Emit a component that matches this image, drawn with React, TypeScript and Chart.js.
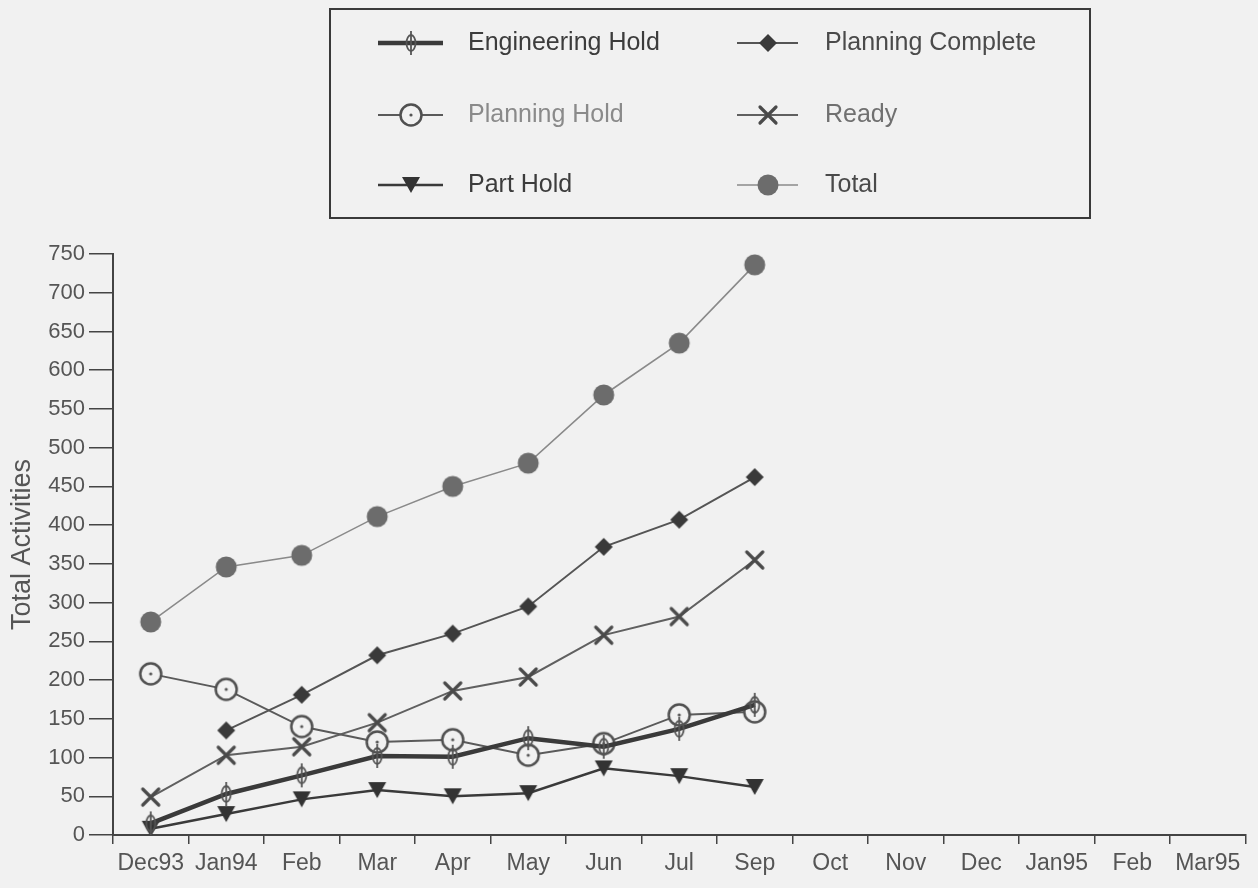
import React, { useEffect, useRef } from 'react';
import { Chart, registerables } from 'chart.js';

Chart.register(...registerables);

const months = ['Dec93', 'Jan94', 'Feb', 'Mar', 'Apr', 'May', 'Jun', 'Jul', 'Sep', 'Oct', 'Nov', 'Dec', 'Jan95', 'Feb', 'Mar95'];
const engineeringHold = [15, 53, 77, 102, 101, 125, 114, 137, 168];
const planningComplete = [null, 135, 181, 232, 260, 295, 372, 407, 462];
const planningHold = [208, 188, 140, 120, 123, 103, 118, 155, 159];
const ready = [49, 103, 114, 145, 186, 204, 258, 282, 355];
const partHold = [8, 27, 46, 58, 50, 54, 86, 76, 62];
const total = [275, 346, 361, 411, 450, 480, 568, 635, 736];
const yMin = 0;
const yMax = 750;
const yStep = 50;

const BG = '#f1f1f1';
const FONT = "'Liberation Sans', Arial, Helvetica, sans-serif";

function makeMarker(w: number, h: number, draw: (ctx: CanvasRenderingContext2D) => void) {
  const c = document.createElement('canvas');
  c.width = w;
  c.height = h;
  const ctx = c.getContext('2d')!;
  draw(ctx);
  return c;
}

export default function App() {
  const ref = useRef<HTMLCanvasElement | null>(null);

  useEffect(() => {
    if (!ref.current) return;

    const engMarker = makeMarker(14, 26, (ctx) => {
      ctx.strokeStyle = '#555';
      ctx.lineWidth = 1.8;
      ctx.beginPath();
      ctx.ellipse(7, 13, 4.5, 8, 0, 0, Math.PI * 2);
      ctx.stroke();
      ctx.beginPath();
      ctx.moveTo(7, 1);
      ctx.lineTo(7, 25);
      ctx.stroke();
    });
    const holdMarker = makeMarker(26, 26, (ctx) => {
      ctx.fillStyle = BG;
      ctx.strokeStyle = '#505050';
      ctx.lineWidth = 2.5;
      ctx.beginPath();
      ctx.arc(13, 13, 10.5, 0, Math.PI * 2);
      ctx.fill();
      ctx.stroke();
      ctx.fillStyle = '#555';
      ctx.beginPath();
      ctx.arc(13, 13, 1.6, 0, Math.PI * 2);
      ctx.fill();
    });
    const completeMarker = makeMarker(20, 20, (ctx) => {
      ctx.fillStyle = '#3a3a3a';
      ctx.beginPath();
      ctx.moveTo(10, 1);
      ctx.lineTo(19, 10);
      ctx.lineTo(10, 19);
      ctx.lineTo(1, 10);
      ctx.closePath();
      ctx.fill();
    });
    const readyMarker = makeMarker(22, 22, (ctx) => {
      ctx.strokeStyle = '#4a4a4a';
      ctx.lineWidth = 3.2;
      ctx.lineCap = 'round';
      ctx.beginPath();
      ctx.moveTo(3, 3);
      ctx.lineTo(19, 19);
      ctx.moveTo(19, 3);
      ctx.lineTo(3, 19);
      ctx.stroke();
    });
    const partMarker = makeMarker(20, 18, (ctx) => {
      ctx.fillStyle = '#333';
      ctx.beginPath();
      ctx.moveTo(1, 1);
      ctx.lineTo(19, 1);
      ctx.lineTo(10, 17);
      ctx.closePath();
      ctx.fill();
    });
    const totalMarker = makeMarker(24, 24, (ctx) => {
      ctx.fillStyle = '#6c6c6c';
      ctx.beginPath();
      ctx.arc(12, 12, 10.5, 0, Math.PI * 2);
      ctx.fill();
    });

    const legendText = ['#3c3c3c', '#4a4a4a', '#8a8a8a', '#707070', '#3c3c3c', '#4a4a4a'];

    const legendPlugin = {
      id: 'boxLegend',
      afterDraw(chart: any) {
        const ctx = chart.ctx as CanvasRenderingContext2D;
        ctx.save();
        ctx.strokeStyle = '#3a3a3a';
        ctx.lineWidth = 2;
        ctx.strokeRect(330, 9, 760, 209);
        const rows = [43, 115, 185];
        const cols = [
          { l0: 378, l1: 443, m: 411, t: 468 },
          { l0: 737, l1: 798, m: 768, t: 825 },
        ];
        ctx.font = `25px ${FONT}`;
        ctx.textBaseline = 'middle';
        ctx.textAlign = 'left';
        chart.data.datasets.forEach((ds: any, i: number) => {
          const c = cols[i % 2];
          const y = rows[Math.floor(i / 2)];
          ctx.strokeStyle = ds.borderColor;
          ctx.lineWidth = ds.borderWidth;
          ctx.beginPath();
          ctx.moveTo(c.l0, y);
          ctx.lineTo(c.l1, y);
          ctx.stroke();
          const img = ds.pointStyle as HTMLCanvasElement;
          ctx.drawImage(img, c.m - img.width / 2, y - img.height / 2);
          ctx.fillStyle = legendText[i];
          ctx.fillText(ds.label, c.t, y);
        });
        ctx.restore();
      },
    };

    const chart = new Chart(ref.current, {
      type: 'line',
      data: {
        labels: months,
        datasets: [
          { label: 'Engineering Hold', data: engineeringHold, borderColor: '#3a3a3a', borderWidth: 4.5, pointStyle: engMarker as any, pointRadius: 8 },
          { label: 'Planning Complete', data: planningComplete, borderColor: '#555', borderWidth: 2, pointStyle: completeMarker as any, pointRadius: 8 },
          { label: 'Planning Hold', data: planningHold, borderColor: '#5a5a5a', borderWidth: 2, pointStyle: holdMarker as any, pointRadius: 10 },
          { label: 'Ready', data: ready, borderColor: '#606060', borderWidth: 2, pointStyle: readyMarker as any, pointRadius: 9 },
          { label: 'Part Hold', data: partHold, borderColor: '#3a3a3a', borderWidth: 2.5, pointStyle: partMarker as any, pointRadius: 8 },
          { label: 'Total', data: total, borderColor: '#8a8a8a', borderWidth: 1.6, pointStyle: totalMarker as any, pointRadius: 10 },
        ],
      },
      options: {
        animation: false,
        responsive: true,
        maintainAspectRatio: false,
        layout: { padding: { top: 254, right: 5, left: 0, bottom: 0 } },
        plugins: { legend: { display: false }, tooltip: { enabled: false } },
        elements: { line: { tension: 0 } },
        scales: {
          x: {
            type: 'category',
            offset: true,
            grid: { offset: true, drawOnChartArea: false, drawTicks: true, tickLength: 9, color: '#444', lineWidth: 1.5 },
            border: { color: '#444', width: 2 },
            ticks: { color: '#555', font: { size: 23, family: FONT }, maxRotation: 0, autoSkip: false, padding: 6 },
            afterFit: (s: any) => { s.height = 53; },
          },
          y: {
            min: yMin,
            max: yMax,
            grid: { drawOnChartArea: false, drawTicks: true, tickLength: 24, color: '#444', lineWidth: 1.5 },
            border: { color: '#444', width: 2 },
            ticks: { stepSize: yStep, color: '#555', font: { size: 22, family: FONT }, padding: 4 },
            title: { display: true, text: 'Total Activities', color: '#555', font: { size: 27, family: FONT }, padding: { top: 6, bottom: 0 } },
            afterFit: (s: any) => { s.width = 113; },
          },
        },
      },
      plugins: [legendPlugin],
    });
    return () => chart.destroy();
  }, []);

  return (
    <div style={{ position: 'absolute', left: 0, top: 0, width: 1258, height: 888, background: BG }}>
      <canvas ref={ref} />
    </div>
  );
}
